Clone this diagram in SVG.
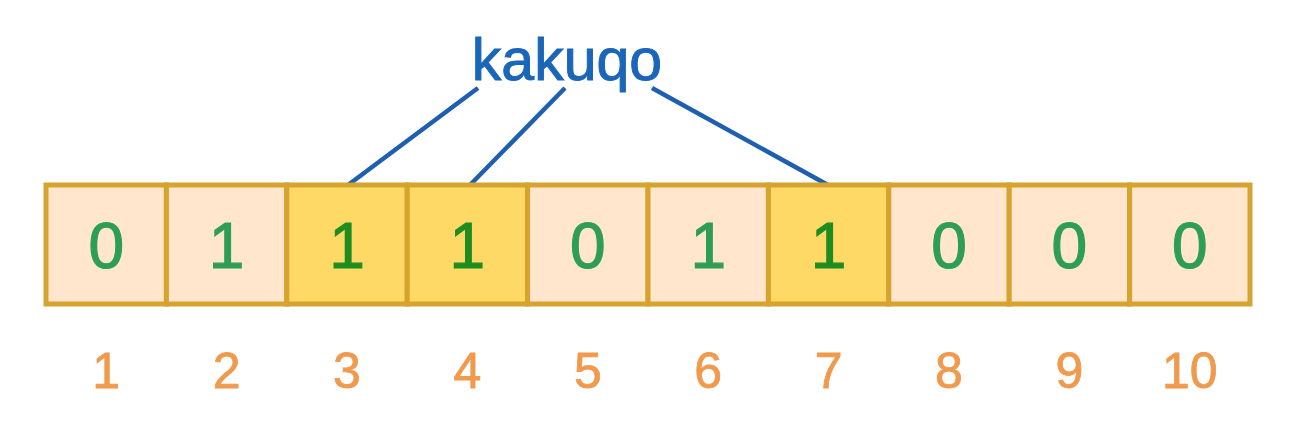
<svg xmlns="http://www.w3.org/2000/svg" width="1306" height="431" viewBox="0 0 1306 431">
<style>
.cell{fill:#ffe6cc;stroke:#d6a32f;stroke-width:5}
.hi{fill:#ffd966}
.v{font-family:"Liberation Sans",Arial,sans-serif;font-size:64px;fill:#2e9e55;stroke:#2e9e55;stroke-width:1.2;text-anchor:middle}
.vh{fill:#1f8c1f;stroke:#1f8c1f}
.idx{font-family:"Liberation Sans",Arial,sans-serif;font-size:50px;fill:#f09a4e;stroke:#f09a4e;stroke-width:0.8;text-anchor:middle}
.lbl{font-family:"Liberation Sans",Arial,sans-serif;font-size:59px;fill:#1a66b8;stroke:#1a66b8;stroke-width:1;text-anchor:middle}
.conn{stroke:#1f5fb0;stroke-width:4.5;fill:none;stroke-linecap:butt}
</style>
<rect width="1306" height="431" fill="#ffffff"/>
<g id="connectors">
<line class="conn" x1="478" y1="88" x2="348" y2="185"/>
<line class="conn" x1="565" y1="88" x2="470" y2="185"/>
<line class="conn" x1="652" y1="88" x2="828" y2="185"/>
</g>
<g id="label"><text class="lbl" x="567" y="80">kakuqo</text></g>
<g id="cell1"><rect class="cell" x="46" y="185" width="120.4" height="119"/><text class="v" x="106.2" y="268">0</text><text class="idx" x="106.2" y="388">1</text></g>
<g id="cell2"><rect class="cell" x="166.4" y="185" width="120.4" height="119"/><text class="v" x="226.6" y="268">1</text><text class="idx" x="226.6" y="388">2</text></g>
<g id="cell3"><rect class="cell hi" x="286.8" y="185" width="120.4" height="119"/><text class="v vh" x="347" y="268">1</text><text class="idx" x="347" y="388">3</text></g>
<g id="cell4"><rect class="cell hi" x="407.2" y="185" width="120.4" height="119"/><text class="v vh" x="467.4" y="268">1</text><text class="idx" x="467.4" y="388">4</text></g>
<g id="cell5"><rect class="cell" x="527.6" y="185" width="120.4" height="119"/><text class="v" x="587.8" y="268">0</text><text class="idx" x="587.8" y="388">5</text></g>
<g id="cell6"><rect class="cell" x="648" y="185" width="120.4" height="119"/><text class="v" x="708.2" y="268">1</text><text class="idx" x="708.2" y="388">6</text></g>
<g id="cell7"><rect class="cell hi" x="768.4" y="185" width="120.4" height="119"/><text class="v vh" x="828.6" y="268">1</text><text class="idx" x="828.6" y="388">7</text></g>
<g id="cell8"><rect class="cell" x="888.8" y="185" width="120.4" height="119"/><text class="v" x="949" y="268">0</text><text class="idx" x="949" y="388">8</text></g>
<g id="cell9"><rect class="cell" x="1009.2" y="185" width="120.4" height="119"/><text class="v" x="1069.4" y="268">0</text><text class="idx" x="1069.4" y="388">9</text></g>
<g id="cell10"><rect class="cell" x="1129.6" y="185" width="120.4" height="119"/><text class="v" x="1189.8" y="268">0</text><text class="idx" x="1189.8" y="388">10</text></g>
</svg>
